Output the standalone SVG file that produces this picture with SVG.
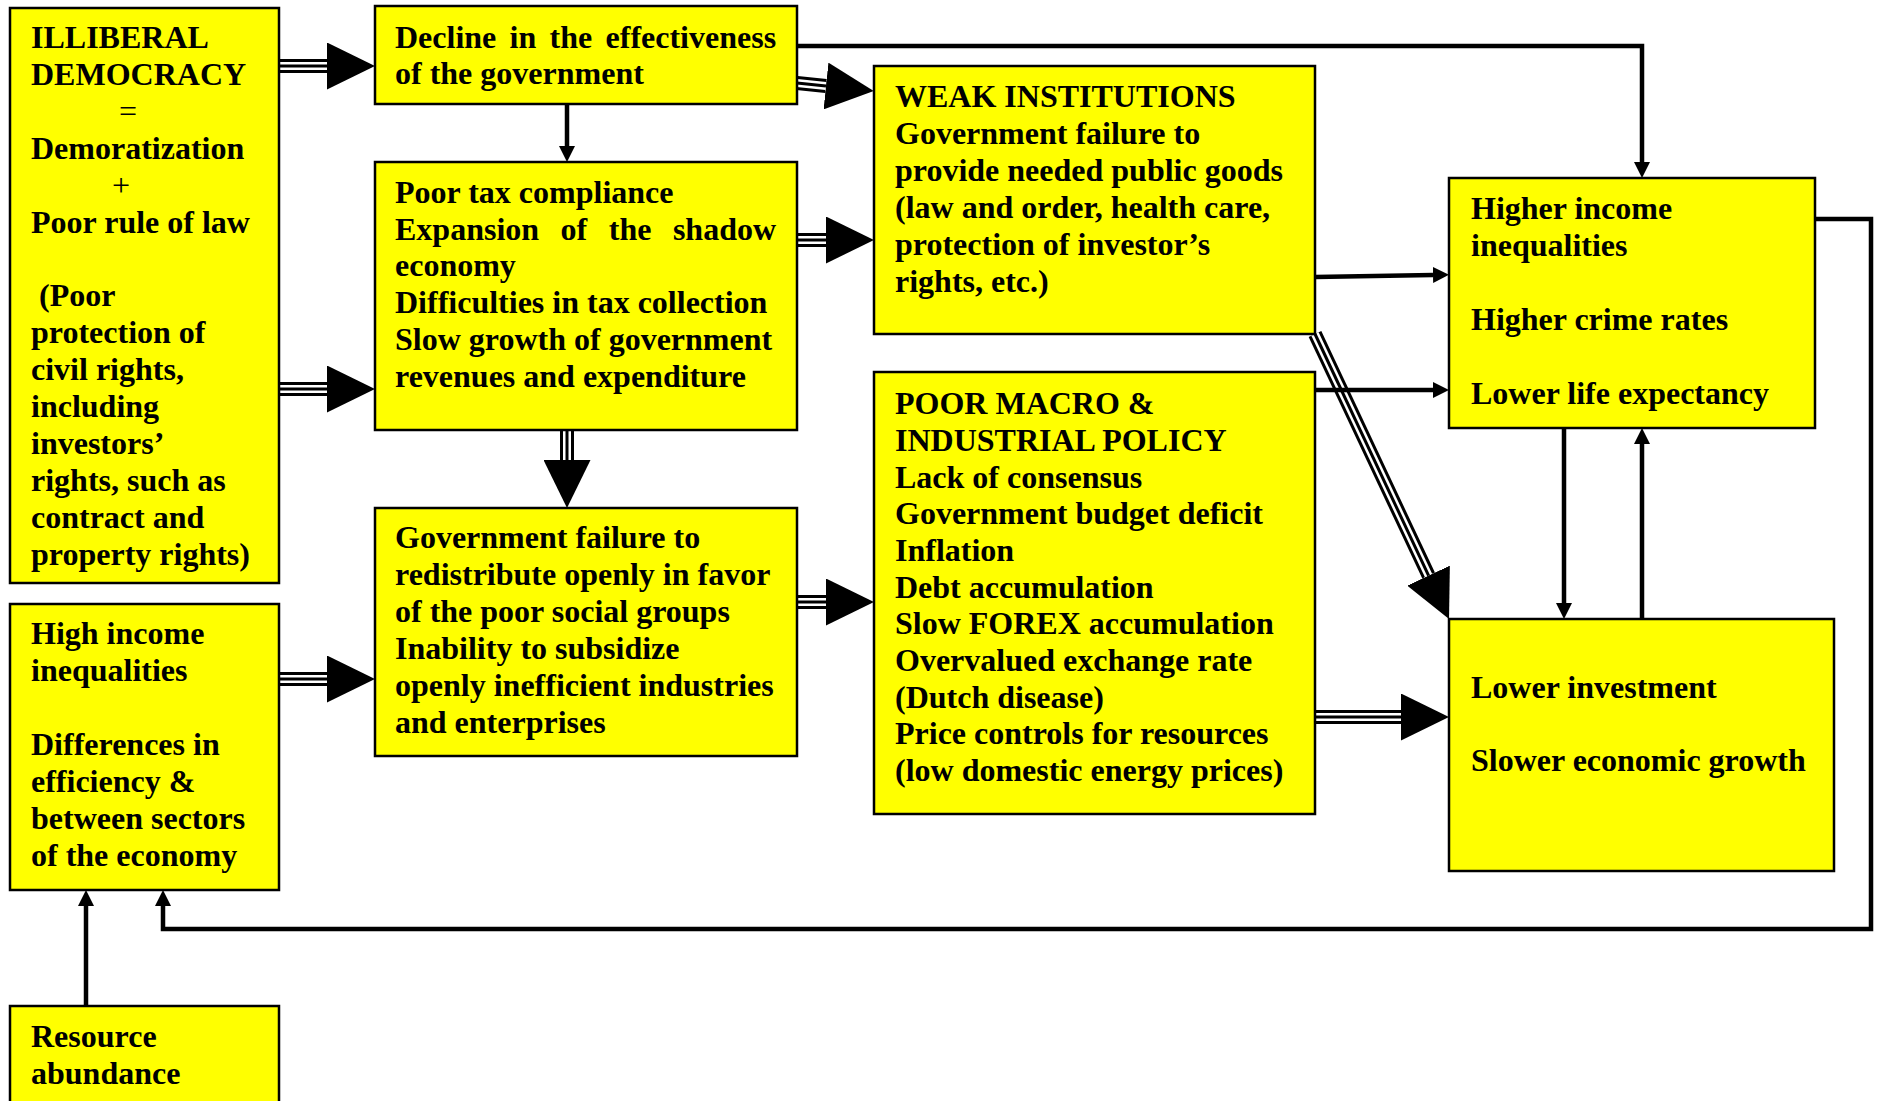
<svg xmlns="http://www.w3.org/2000/svg" width="1878" height="1101" viewBox="0 0 1878 1101">
<style>
.box{fill:#ffff00;stroke:#000;stroke-width:2.5}
.t{font-family:"Liberation Serif","Times New Roman",serif;font-weight:bold;font-size:32px;fill:#000}
.s{fill:none;stroke:#000;stroke-width:4.5}
.t1{fill:none;stroke:#000;stroke-width:14}
.t2{fill:none;stroke:#fff;stroke-width:8}
.t3{fill:none;stroke:#000;stroke-width:3}
</style>
<defs>
<marker id="big" viewBox="0 0 48 47" refX="0" refY="23.5" markerWidth="48" markerHeight="47" markerUnits="userSpaceOnUse" orient="auto">
<path d="M0,0 L48,23.5 L0,47 Z" fill="#000"/>
</marker>
<marker id="sm" viewBox="0 0 16 16" refX="0" refY="8" markerWidth="16" markerHeight="16" markerUnits="userSpaceOnUse" orient="auto">
<path d="M0,0 L16,8 L0,16 Z" fill="#000"/>
</marker>
</defs>
<g id="connectors">
<g id="triple-arrows">
<path class="t1" d="M279,66 H327"/><path class="t2" d="M279,66 H327"/><path class="t3" d="M279,66 H327" marker-end="url(#big)"/>
<path class="t1" d="M279,389 H327"/><path class="t2" d="M279,389 H327"/><path class="t3" d="M279,389 H327" marker-end="url(#big)"/>
<path class="t1" d="M279,679 H327"/><path class="t2" d="M279,679 H327"/><path class="t3" d="M279,679 H327" marker-end="url(#big)"/>
<path class="t1" d="M797,83 L826,86"/><path class="t2" d="M797,83 L826,86"/><path class="t3" d="M797,83 L826,86" marker-end="url(#big)"/>
<path class="t1" d="M797,240 H826"/><path class="t2" d="M797,240 H826"/><path class="t3" d="M797,240 H826" marker-end="url(#big)"/>
<path class="t1" d="M797,602 H826"/><path class="t2" d="M797,602 H826"/><path class="t3" d="M797,602 H826" marker-end="url(#big)"/>
<path class="t1" d="M567,430 V460"/><path class="t2" d="M567,430 V460"/><path class="t3" d="M567,430 V460" marker-end="url(#big)"/>
<path class="t1" d="M1315,717 H1401"/><path class="t2" d="M1315,717 H1401"/><path class="t3" d="M1315,717 H1401" marker-end="url(#big)"/>
<path class="t1" d="M1315,334 L1428.6,575.6"/><path class="t2" d="M1315,334 L1428.6,575.6"/><path class="t3" d="M1315,334 L1428.6,575.6" marker-end="url(#big)"/>
</g>
<g id="single-arrows">
<path class="s" d="M567,104 V146" marker-end="url(#sm)"/>
<path class="s" d="M797,46 H1642 V162" marker-end="url(#sm)"/>
<path class="s" d="M1315,277 L1433,275" marker-end="url(#sm)"/>
<path class="s" d="M1315,390 H1433" marker-end="url(#sm)"/>
<path class="s" d="M1564,428 V603" marker-end="url(#sm)"/>
<path class="s" d="M1642,619 V444" marker-end="url(#sm)"/>
<path class="s" d="M1815,219 H1871 V929 H163 V906" marker-end="url(#sm)"/>
<path class="s" d="M86,1006 V906" marker-end="url(#sm)"/>
</g>
</g>
<g id="illiberal-democracy">
<rect class="box" x="10" y="8" width="269" height="575"/>
<text class="t">
<tspan x="31" y="48">ILLIBERAL</tspan>
<tspan x="31" y="85">DEMOCRACY</tspan>
<tspan x="119" y="122" font-weight="normal">=</tspan>
<tspan x="31" y="159">Demoratization</tspan>
<tspan x="112" y="196" font-weight="normal">+</tspan>
<tspan x="31" y="233">Poor rule of law</tspan>
<tspan x="39" y="306">(Poor</tspan>
<tspan x="31" y="343">protection of</tspan>
<tspan x="31" y="380">civil rights,</tspan>
<tspan x="31" y="417">including</tspan>
<tspan x="31" y="454">investors’</tspan>
<tspan x="31" y="491">rights, such as</tspan>
<tspan x="31" y="528">contract and</tspan>
<tspan x="31" y="565">property rights)</tspan>
</text>
</g>
<g id="decline-effectiveness">
<rect class="box" x="375" y="6" width="422" height="98"/>
<text class="t">
<tspan x="395" y="48" word-spacing="5.3">Decline in the effectiveness</tspan>
<tspan x="395" y="84">of the government</tspan>
</text>
</g>
<g id="poor-tax-compliance">
<rect class="box" x="375" y="162" width="422" height="268"/>
<text class="t">
<tspan x="395" y="203">Poor tax compliance</tspan>
<tspan x="395" y="240" word-spacing="13.5">Expansion of the shadow</tspan>
<tspan x="395" y="276">economy</tspan>
<tspan x="395" y="313">Difficulties in tax collection</tspan>
<tspan x="395" y="350">Slow growth of government</tspan>
<tspan x="395" y="387">revenues and expenditure</tspan>
</text>
</g>
<g id="failure-redistribute">
<rect class="box" x="375" y="508" width="422" height="248"/>
<text class="t">
<tspan x="395" y="548">Government failure to</tspan>
<tspan x="395" y="585">redistribute openly in favor</tspan>
<tspan x="395" y="622">of the poor social groups</tspan>
<tspan x="395" y="659">Inability to subsidize</tspan>
<tspan x="395" y="696">openly inefficient industries</tspan>
<tspan x="395" y="733">and enterprises</tspan>
</text>
</g>
<g id="weak-institutions">
<rect class="box" x="874" y="66" width="441" height="268"/>
<text class="t">
<tspan x="895" y="107">WEAK INSTITUTIONS</tspan>
<tspan x="895" y="144">Government failure to</tspan>
<tspan x="895" y="181">provide needed public goods</tspan>
<tspan x="895" y="218">(law and order, health care,</tspan>
<tspan x="895" y="255">protection of investor’s</tspan>
<tspan x="895" y="292">rights, etc.)</tspan>
</text>
</g>
<g id="poor-macro-policy">
<rect class="box" x="874" y="372" width="441" height="442"/>
<text class="t">
<tspan x="895" y="414">POOR MACRO &amp;</tspan>
<tspan x="895" y="451">INDUSTRIAL POLICY</tspan>
<tspan x="895" y="488">Lack of consensus</tspan>
<tspan x="895" y="524">Government budget deficit</tspan>
<tspan x="895" y="561">Inflation</tspan>
<tspan x="895" y="598">Debt accumulation</tspan>
<tspan x="895" y="634">Slow FOREX accumulation</tspan>
<tspan x="895" y="671">Overvalued exchange rate</tspan>
<tspan x="895" y="708">(Dutch disease)</tspan>
<tspan x="895" y="744">Price controls for resources</tspan>
<tspan x="895" y="781">(low domestic energy prices)</tspan>
</text>
</g>
<g id="higher-inequalities">
<rect class="box" x="1449" y="178" width="366" height="250"/>
<text class="t">
<tspan x="1471" y="219">Higher income</tspan>
<tspan x="1471" y="256">inequalities</tspan>
<tspan x="1471" y="330">Higher crime rates</tspan>
<tspan x="1471" y="404">Lower life expectancy</tspan>
</text>
</g>
<g id="lower-investment">
<rect class="box" x="1449" y="619" width="385" height="252"/>
<text class="t">
<tspan x="1471" y="698">Lower investment</tspan>
<tspan x="1471" y="771">Slower economic growth</tspan>
</text>
</g>
<g id="high-income-inequalities">
<rect class="box" x="10" y="604" width="269" height="286"/>
<text class="t">
<tspan x="31" y="644">High income</tspan>
<tspan x="31" y="681">inequalities</tspan>
<tspan x="31" y="755">Differences in</tspan>
<tspan x="31" y="792">efficiency &amp;</tspan>
<tspan x="31" y="829">between sectors</tspan>
<tspan x="31" y="866">of the economy</tspan>
</text>
</g>
<g id="resource-abundance">
<rect class="box" x="10" y="1006" width="269" height="110"/>
<text class="t">
<tspan x="31" y="1047">Resource</tspan>
<tspan x="31" y="1084">abundance</tspan>
</text>
</g>
</svg>
